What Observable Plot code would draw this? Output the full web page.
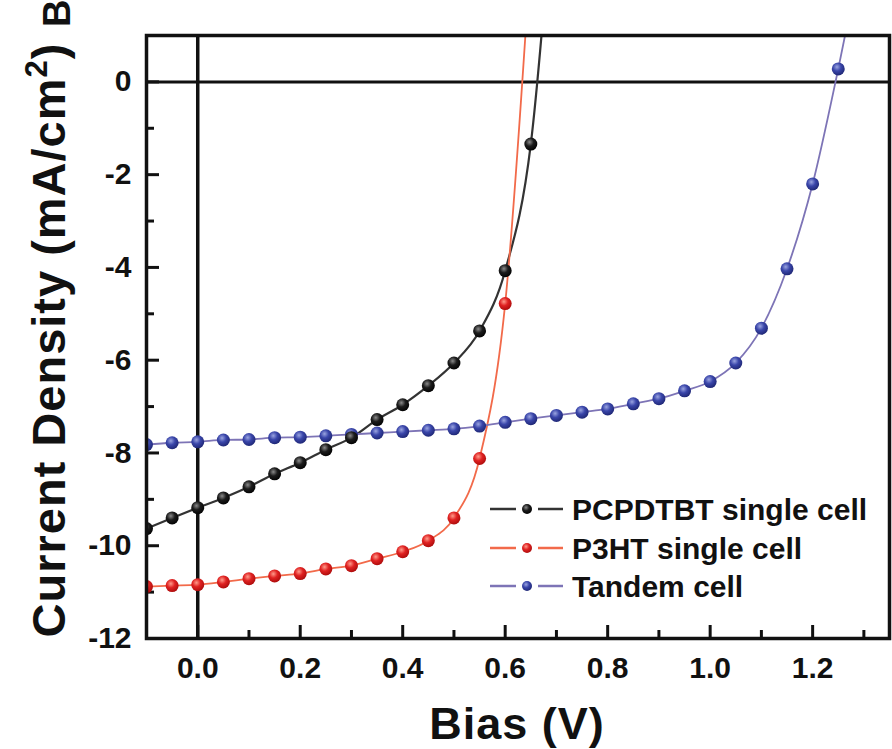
<!DOCTYPE html>
<html><head><meta charset="utf-8">
<script src="https://cdn.jsdelivr.net/npm/d3@7"></script>
<script src="https://cdn.jsdelivr.net/npm/@observablehq/plot@0.6"></script>
<style>
body{margin:0;background:#fff;}
#wrap{position:relative;width:892px;height:749px;}
</style></head><body><div id="wrap"></div>
<script>
// ---- Data ----
const biasPCPDTBT = [-0.1,-0.05,0,0.05,0.1,0.15,0.2,0.25,0.3,0.35,0.4,0.45,0.5,0.55,0.6,0.65,0.7];
const jPCPDTBT    = [-9.63,-9.40,-9.18,-8.97,-8.73,-8.45,-8.21,-7.93,-7.67,-7.28,-6.96,-6.55,-6.06,-5.37,-4.07,-1.34,5.0];

const biasP3HT = [-0.1,-0.05,0,0.05,0.1,0.15,0.2,0.25,0.3,0.35,0.4,0.45,0.5,0.55,0.6,0.65];
const jP3HT    = [-10.88,-10.86,-10.84,-10.78,-10.71,-10.65,-10.60,-10.50,-10.43,-10.28,-10.13,-9.89,-9.40,-8.12,-4.78,2.8];

const biasTandem = [-0.1,-0.05,0,0.05,0.1,0.15,0.2,0.25,0.3,0.35,0.4,0.45,0.5,0.55,0.6,0.65,0.7,0.75,0.8,0.85,0.9,0.95,1.0,1.05,1.1,1.15,1.2,1.25,1.3];
const jTandem    = [-7.82,-7.78,-7.76,-7.72,-7.71,-7.67,-7.66,-7.63,-7.60,-7.57,-7.54,-7.51,-7.48,-7.42,-7.34,-7.26,-7.19,-7.12,-7.05,-6.94,-6.83,-6.66,-6.46,-6.06,-5.31,-4.03,-2.20,0.28,3.0];

const seriesNames = ["PCPDTBT single cell","P3HT single cell","Tandem cell"];
const xMajorTicks = [0,0.2,0.4,0.6,0.8,1.0,1.2];
const xMinorTicks = [0.1,0.3,0.5,0.7,0.9,1.1,1.3];
const yMajorTicks = [-12,-10,-8,-6,-4,-2,0];
const yMinorTicks = [-11,-9,-7,-5,-3,-1];

const toRows = (xs, ys) => xs.map((x,i)=>({x, y: ys[i]}));
const dPC = toRows(biasPCPDTBT, jPCPDTBT);
const dP3 = toRows(biasP3HT, jP3HT);
const dT  = toRows(biasTandem, jTandem);

// ---- Layout ----
const W=892, H=749, mL=146, mR=3, mT=35, mB=111;
const pW = W-mL-mR, pH = H-mT-mB;
const FONT = "'Liberation Sans', Arial, Helvetica, sans-serif";

const lineCol = ["#333333","#f26a4a","#7d74b6"];
const dotFill = ["url(#gBlack)","url(#gRed)","url(#gBlue)"];

const plot = Plot.plot({
  width: W, height: H, marginLeft: mL, marginRight: mR, marginTop: mT, marginBottom: mB,
  style: {fontFamily: FONT, background: "white", color: "#111"},
  x: {domain: [-0.1, 1.35]},
  y: {domain: [-12, 1]},
  marks: [
    Plot.ruleY([0], {stroke:"#111", strokeWidth:3}),
    Plot.ruleX([0], {stroke:"#111", strokeWidth:3.5}),
    Plot.tickX(xMajorTicks, {x: d=>d, insetTop: pH-13, stroke:"#111", strokeWidth:3}),
    Plot.tickX(xMinorTicks, {x: d=>d, insetTop: pH-8, stroke:"#111", strokeWidth:3}),
    Plot.tickY(yMajorTicks, {y: d=>d, insetRight: pW-13, stroke:"#111", strokeWidth:3}),
    Plot.tickY(yMinorTicks, {y: d=>d, insetRight: pW-8, stroke:"#111", strokeWidth:3}),
    Plot.line(dPC, {x:"x", y:"y", curve:"monotone-x", stroke: lineCol[0], strokeWidth:2.2, clip:true}),
    Plot.line(dP3, {x:"x", y:"y", curve:"monotone-x", stroke: lineCol[1], strokeWidth:1.8, clip:true}),
    Plot.line(dT,  {x:"x", y:"y", curve:"monotone-x", stroke: lineCol[2], strokeWidth:1.8, clip:true}),
    Plot.dot(dT,  {x:"x", y:"y", r:6.5, fill: dotFill[2], clip:true}),
    Plot.dot(dPC, {x:"x", y:"y", r:6.5, fill: dotFill[0], clip:true}),
    Plot.dot(dP3, {x:"x", y:"y", r:6.5, fill: dotFill[1], clip:true}),
    Plot.axisX({ticks: xMajorTicks, tickSize:0, tickPadding:18, tickFormat: d=>d.toFixed(1), fontSize:30, fontWeight:"bold", label:null}),
    Plot.axisY({ticks: yMajorTicks, tickSize:0, tickPadding:15, tickFormat: d=>String(d), fontSize:30, fontWeight:"bold", label:null}),
    Plot.frame({stroke:"#111", strokeWidth:3.5})
  ]
});

document.getElementById("wrap").appendChild(plot);
const svg = d3.select(plot);

// gradients for sphere-like markers
const defs = svg.insert("defs", ":first-child");
function grad(id, c0, c1, c2){
  const g = defs.append("radialGradient").attr("id", id).attr("cx","0.4").attr("cy","0.35").attr("r","0.7");
  g.append("stop").attr("offset","0").attr("stop-color",c0);
  g.append("stop").attr("offset","0.45").attr("stop-color",c1);
  g.append("stop").attr("offset","1").attr("stop-color",c2);
}
grad("gBlack","#8a8a8a","#1c1c1c","#000");
grad("gRed","#ff9a8a","#e02222","#a80a0a");
grad("gBlue","#9aa4e0","#3a46aa","#1c2470");

// axis titles
svg.append("text").attr("transform","translate(65,340) rotate(-90)")
  .attr("text-anchor","middle").attr("font-family",FONT).attr("font-weight","bold")
  .attr("font-size",47).attr("letter-spacing","1").attr("fill","#111")
  .html('Current Density (mA/cm<tspan dy="-18" font-size="31">2</tspan><tspan dy="18">)</tspan>');
svg.append("text").attr("transform","translate(70,27) rotate(-90)")
  .attr("text-anchor","start").attr("font-family",FONT).attr("font-weight","bold")
  .attr("font-size",38).attr("fill","#111").text("B");
svg.append("text").attr("x",517).attr("y",739)
  .attr("text-anchor","middle").attr("font-family",FONT).attr("font-weight","bold")
  .attr("font-size",45).attr("letter-spacing","1").attr("fill","#111").text("Bias (V)");

// legend
const legY = [509,548,586];
seriesNames.forEach((name,i)=>{
  const g = svg.append("g");
  g.append("line").attr("x1",490).attr("x2",516).attr("y1",legY[i]).attr("y2",legY[i]).attr("stroke",lineCol[i]).attr("stroke-width",2.5);
  g.append("line").attr("x1",538).attr("x2",563).attr("y1",legY[i]).attr("y2",legY[i]).attr("stroke",lineCol[i]).attr("stroke-width",2.5);
  g.append("circle").attr("cx",527).attr("cy",legY[i]).attr("r",5).attr("fill",dotFill[i]);
  g.append("text").attr("x",572).attr("y",legY[i]).attr("dy","0.36em").attr("text-anchor","start")
    .attr("font-family",FONT).attr("font-weight","bold").attr("font-size",30).attr("fill","#111").text(name);
});
</script></body></html>
